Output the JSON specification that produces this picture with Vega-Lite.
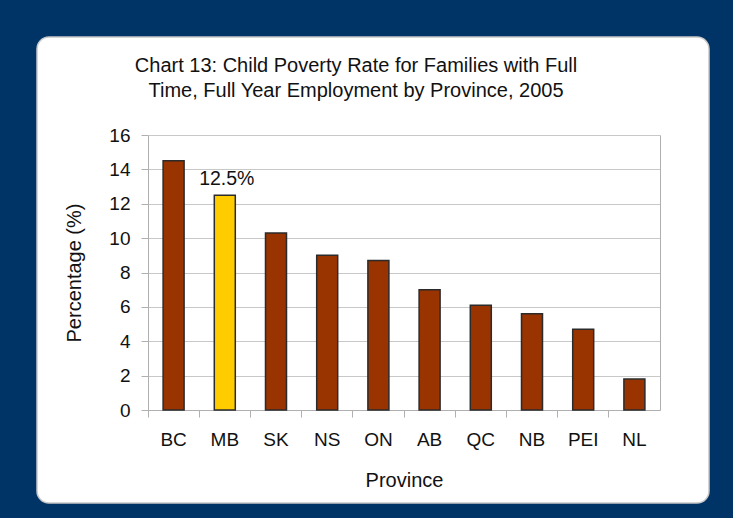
{
  "$schema": "https://vega.github.io/schema/vega-lite/v6.json",
  "width": 672,
  "height": 466,
  "autosize": "none",
  "padding": {"left": 37, "top": 37, "right": 24, "bottom": 15},
  "background": "#003366",
  "title": {
    "text": ["Chart 13: Child Poverty Rate for Families with Full", "Time, Full Year Employment by Province, 2005"],
    "anchor": "middle",
    "frame": "group",
    "baseline": "top",
    "offset": -64,
    "dx": -17,
    "fontSize": 20,
    "font": "Liberation Sans",
    "fontWeight": "normal",
    "color": "#111111",
    "lineHeight": 25
  },
  "data": {
    "values": [
      {"Province": "BC", "Rate": 14.5, "Label": ""},
      {"Province": "MB", "Rate": 12.5, "Label": "12.5%"},
      {"Province": "SK", "Rate": 10.3, "Label": ""},
      {"Province": "NS", "Rate": 9.0, "Label": ""},
      {"Province": "ON", "Rate": 8.7, "Label": ""},
      {"Province": "AB", "Rate": 7.0, "Label": ""},
      {"Province": "QC", "Rate": 6.1, "Label": ""},
      {"Province": "NB", "Rate": 5.6, "Label": ""},
      {"Province": "PEI", "Rate": 4.7, "Label": ""},
      {"Province": "NL", "Rate": 1.8, "Label": ""}
    ]
  },
  "layer": [
    {
      "mark": {"type": "bar", "size": 21, "stroke": "#2b2b2b", "strokeWidth": 1.5},
      "encoding": {
        "x": {
          "field": "Province", "type": "nominal", "sort": null,
          "scale": {"range": [111, 623], "paddingInner": 0, "paddingOuter": 0},
          "axis": {
            "orient": "bottom", "offset": -93, "bandPosition": 0, "labelAngle": 0,
            "labelFontSize": 19, "labelColor": "#111111", "labelPadding": 13,
            "tickSize": 7, "tickColor": "#b0b0b0", "domainColor": "#b0b0b0",
            "title": "Province", "titleFontSize": 20, "titleFontWeight": "normal",
            "titlePadding": 21, "titleColor": "#111111"
          }
        },
        "y": {
          "field": "Rate", "type": "quantitative",
          "scale": {"domain": [0, 16], "range": [373, 98], "nice": false},
          "axis": {
            "orient": "left", "offset": -111, "values": [0, 2, 4, 6, 8, 10, 12, 14, 16],
            "grid": true, "gridColor": "#c8c8c8", "domainColor": "#b0b0b0",
            "tickColor": "#b0b0b0", "tickSize": 7, "labelPadding": 11,
            "labelFontSize": 19, "labelColor": "#111111",
            "title": "Percentage (%)", "titleFontSize": 20, "titleFontWeight": "normal",
            "titlePadding": 24, "titleColor": "#111111"
          }
        },
        "color": {
          "condition": {"test": "datum.Province === 'MB'", "value": "#FFCC00"},
          "value": "#993300"
        }
      }
    },
    {
      "mark": {"type": "text", "baseline": "alphabetic", "dy": -10, "dx": 2, "fontSize": 19.5, "color": "#111111"},
      "encoding": {
        "x": {"field": "Province", "type": "nominal", "sort": null},
        "y": {
          "field": "Rate", "type": "quantitative",
          "axis": {"orient": "right", "offset": -49, "labels": false, "ticks": false, "grid": false, "title": null, "domainColor": "#b0b0b0"}
        },
        "text": {"field": "Label"}
      }
    }
  ],
  "resolve": {"axis": {"y": "independent"}},
  "config": {
    "font": "Liberation Sans",
    "view": {"fill": "white", "stroke": "#c8c8c8", "strokeWidth": 1.5, "cornerRadius": 12}
  }
}
